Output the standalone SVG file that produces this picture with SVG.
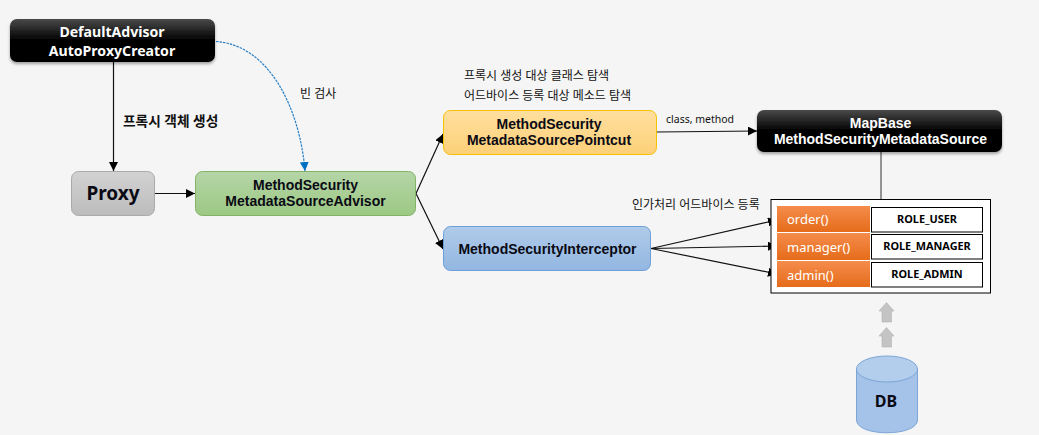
<svg xmlns="http://www.w3.org/2000/svg" width="1039" height="435" viewBox="0 0 1039 435">
<style>
text{font-family:"Noto Sans","Noto Sans CJK KR",sans-serif;text-anchor:middle}
.b{font-family:"Liberation Sans","Noto Sans CJK KR",sans-serif;font-weight:700;font-size:14px;fill:#0a0a14}
.w{font-weight:700;font-size:14.1px;fill:#fff}
.w2{font-family:"Liberation Sans","Noto Sans CJK KR",sans-serif;font-weight:700;font-size:14px;fill:#fff}
.k{font-size:12px;fill:#111;text-anchor:start}
.r{font-weight:700;font-size:10.9px;fill:#000}
.m{font-size:13px;fill:#fff;text-anchor:start}
.l{stroke:#111;stroke-width:1.2;fill:none;marker-end:url(#a)}
.cell{fill:#fff;stroke:#000;stroke-width:1}
.or{fill:url(#go)}
.up{fill:#c4c4c4;stroke:#b4b4b4;stroke-width:.6}
</style>
<defs>
<linearGradient id="gk" x1="0" y1="0" x2="0" y2="1"><stop offset="0" stop-color="#4a4a4a"/><stop offset=".5" stop-color="#000"/><stop offset="1" stop-color="#000"/></linearGradient>
<linearGradient id="gg" x1="0" y1="0" x2="0" y2="1"><stop offset="0" stop-color="#b5d5a7"/><stop offset="1" stop-color="#9cc883"/></linearGradient>
<linearGradient id="gy" x1="0" y1="0" x2="0" y2="1"><stop offset="0" stop-color="#fedf9f"/><stop offset="1" stop-color="#fdd078"/></linearGradient>
<linearGradient id="gb" x1="0" y1="0" x2="0" y2="1"><stop offset="0" stop-color="#b1cbe9"/><stop offset="1" stop-color="#92b7e2"/></linearGradient>
<linearGradient id="gp" x1="0" y1="0" x2="0" y2="1"><stop offset="0" stop-color="#d2d2d2"/><stop offset="1" stop-color="#bcbcbc"/></linearGradient>
<linearGradient id="go" x1="0" y1="0" x2="0" y2="1"><stop offset="0" stop-color="#f58c4c"/><stop offset="1" stop-color="#e56c1a"/></linearGradient>
<filter id="sh" x="-5%" y="-15%" width="110%" height="135%"><feDropShadow dx="0" dy="2" stdDeviation="1.5" flood-color="#000" flood-opacity=".35"/></filter>
<marker id="a" viewBox="0 0 10 10" refX="10" refY="5" markerWidth="9" markerHeight="9" markerUnits="userSpaceOnUse" orient="auto"><path d="M0 0L10 5L0 10z" fill="#000"/></marker>
<marker id="ab" viewBox="0 0 10 10" refX="10" refY="5" markerWidth="9" markerHeight="9" markerUnits="userSpaceOnUse" orient="auto"><path d="M0 0L10 5L0 10z" fill="#0070c0"/></marker>
</defs>
<rect width="1039" height="435" fill="#f5f5f5"/>
<g id="connectors">
<path class="l" d="M113.500 62V171"/>
<path class="l" d="M155 193.500H195"/>
<path d="M216 41.500C270 45 300 110 305 171" fill="none" stroke="#2a7fc4" stroke-width="1.200" stroke-dasharray="2.500 1" marker-end="url(#ab)"/>
<path class="l" d="M416 193.500L443 134"/>
<path class="l" d="M416 193.500L443 249"/>
<path class="l" d="M657 132L757 131"/>
<path class="l" d="M651 248.500L777 220"/>
<path class="l" d="M651 248.500L777 246"/>
<path class="l" d="M651 248.500L777 274"/>
<path d="M881 152V199" stroke="#333" stroke-width="1" fill="none"/>
</g>
<g id="default-advisor"><rect x="10" y="19" width="205" height="43" rx="7" fill="url(#gk)" filter="url(#sh)"/><text class="w" x="112" y="37">DefaultAdvisor</text><text class="w" x="112" y="56">AutoProxyCreator</text></g>
<g id="proxy"><rect x="71.500" y="171.500" width="83" height="44" rx="7" fill="url(#gp)" stroke="#aaa"/><text x="113" y="200" style="font-weight:700;font-size:19px;fill:#0a0a14">Proxy</text></g>
<g id="advisor"><rect x="195.500" y="171.500" width="220" height="44" rx="7" fill="url(#gg)" stroke="#82b366"/><text class="b" x="305.500" y="190">MethodSecurity</text><text class="b" x="305.500" y="206">MetadataSourceAdvisor</text></g>
<g id="pointcut"><rect x="443.500" y="110.500" width="213" height="44" rx="7" fill="url(#gy)" stroke="#f5c000"/><text class="b" x="549" y="129">MethodSecurity</text><text class="b" x="549" y="145">MetadataSourcePointcut</text></g>
<g id="interceptor"><rect x="443.500" y="226.500" width="207" height="44" rx="7" fill="url(#gb)" stroke="#6c9fd8"/><text class="b" x="547.500" y="254">MethodSecurityInterceptor</text></g>
<g id="mapbase"><rect x="757" y="110" width="245" height="42" rx="7" fill="url(#gk)" filter="url(#sh)"/><text class="w2" x="880.500" y="128">MapBase</text><text class="w2" x="880.500" y="144">MethodSecurityMetadataSource</text></g>
<g id="table">
<rect x="771" y="199.500" width="219.500" height="93.500" fill="#fff" stroke="#000"/>
<rect class="or" x="777" y="206" width="93" height="26"/><rect class="or" x="777" y="233" width="93" height="27"/><rect class="or" x="777" y="261" width="93" height="26"/>
<rect class="cell" x="871.500" y="207.500" width="111" height="24.500"/><rect class="cell" x="871.500" y="234.500" width="111" height="24.500"/><rect class="cell" x="871.500" y="262.500" width="111" height="24.500"/>
<text class="m" x="787" y="224">order()</text><text class="m" x="787" y="252">manager()</text><text class="m" x="787" y="280">admin()</text>
<text class="r" x="927" y="223">ROLE_USER</text><text class="r" x="927" y="250">ROLE_MANAGER</text><text class="r" x="927" y="278">ROLE_ADMIN</text>
</g>
<g id="db">
<path class="up" d="M886.500 302.500L894 311H891.500V322H882V311H879z"/><path class="up" d="M886.500 327.500L894 336H891.500V347H882V336H879z"/>
<path d="M856.500 369V420C856.500 437 917.500 437 917.500 420V369z" fill="#a5c3e8" stroke="#7ca6d8"/>
<ellipse cx="887" cy="369" rx="30.500" ry="13" fill="#b3cdec" stroke="#7ca6d8"/>
<text x="886" y="407" style="font-weight:700;font-size:16px;fill:#0a0a14">DB</text>
</g>
<g id="labels">
<text class="k" x="123" y="126" style="font-weight:700;font-size:13.700px">프록시 객체 생성</text>
<text class="k" x="300" y="98">빈 검사</text>
<text class="k" x="464" y="80">프록시 생성 대상 클래스 탐색</text>
<text class="k" x="464" y="100">어드바이스 등록 대상 메소드 탐색</text>
<text class="k" x="666" y="123" style="font-size:10.500px">class, method</text>
<text class="k" x="632" y="209">인가처리 어드바이스 등록</text>
</g>
</svg>
